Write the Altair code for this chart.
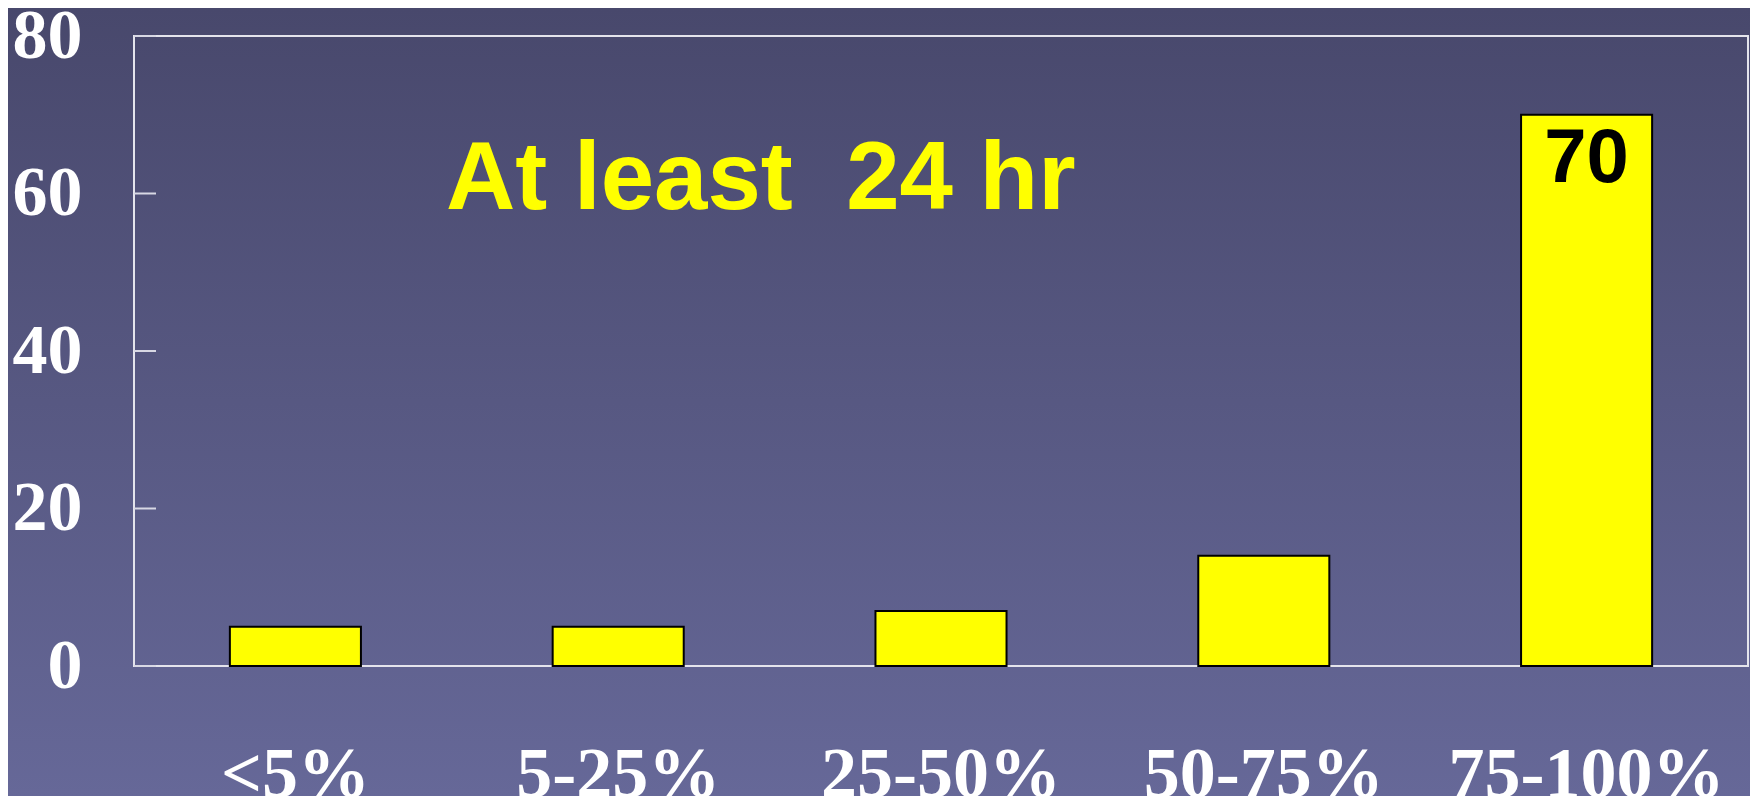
import altair as alt
import pandas as pd

categories = ["<5%", "5-25%", "25-50%", "50-75%", "75-100%"]
values = [5, 5, 7, 14, 70]
bar_labels = ["", "", "", "", "70"]
y_ticks = [0, 20, 40, 60, 80]
title_text = "At least\u00a0 24 hr"

W, H = 1614, 630
PAD = {"left": 126, "top": 28, "right": 2, "bottom": 130}

df = pd.DataFrame({"cat": categories, "value": values, "label": bar_labels})
ticks_df = pd.DataFrame({"t": y_ticks})

xscale = alt.Scale(domain=categories, paddingInner=0.594, paddingOuter=0.297)
yscale = alt.Scale(domain=[0, 80], nice=False)

one = pd.DataFrame({"a": [0]})

bg = alt.Chart(one).mark_rect(
    color=alt.LinearGradient(
        gradient="linear",
        stops=[alt.GradientStop(color="#48486c", offset=0),
               alt.GradientStop(color="#666898", offset=1)],
        x1=0, x2=0, y1=0, y2=1),
).encode(
    x=alt.value(-PAD["left"]), x2=alt.value(W + PAD["right"]),
    y=alt.value(-PAD["top"]), y2=alt.value(H + PAD["bottom"]),
)

frame = alt.Chart(one).mark_rect(
    filled=False, stroke="#e4e4ec", strokeWidth=2,
).encode(
    x=alt.value(0), x2=alt.value(W), y=alt.value(0), y2=alt.value(H),
)

bars = alt.Chart(df).mark_bar(color="#ffff00", stroke="black", strokeWidth=2).encode(
    x=alt.X("cat:N", scale=xscale, sort=categories,
            axis=alt.Axis(title=None, labelAngle=0, domain=False, ticks=False, zindex=2,
                          labelFont="Liberation Serif", labelFontWeight="bold",
                          labelFontSize=72, labelColor="white", labelPadding=130,
                          labelBaseline="alphabetic", labelOverlap=False, labelLimit=0)),
    y=alt.Y("value:Q", scale=yscale,
            axis=alt.Axis(title=None, values=y_ticks, domain=False, ticks=False, grid=False,
                          zindex=2,
                          labelFont="Liberation Serif", labelFontWeight="bold",
                          labelFontSize=70, labelColor="white", labelPadding=52)),
)

tick_rules = alt.Chart(ticks_df).mark_rule(color="#d8d8e4", strokeWidth=2).encode(
    y=alt.Y("t:Q", scale=yscale),
    x=alt.value(0), x2=alt.value(22),
)

value_text = alt.Chart(df).mark_text(
    font="Liberation Sans", fontWeight="bold", fontSize=76, color="black",
    baseline="alphabetic", dy=67,
).encode(
    x=alt.X("cat:N", scale=xscale, sort=categories),
    y=alt.Y("value:Q", scale=yscale),
    text="label:N",
)

title = alt.Chart(pd.DataFrame({"t": [title_text]})).mark_text(
    font="Liberation Sans", fontWeight="bold", fontSize=96, color="#ffff00",
    align="left", baseline="alphabetic",
).encode(x=alt.value(312), y=alt.value(173), text="t:N")

chart = alt.layer(bg, frame, bars, tick_rules, value_text, title).properties(
    width=W, height=H, padding=PAD, autosize=alt.AutoSizeParams(type="none"),
    background="#5a5c8a",
).configure_view(stroke=None)

chart.save("out.html", embed_options={"renderer": "svg", "actions": False})
